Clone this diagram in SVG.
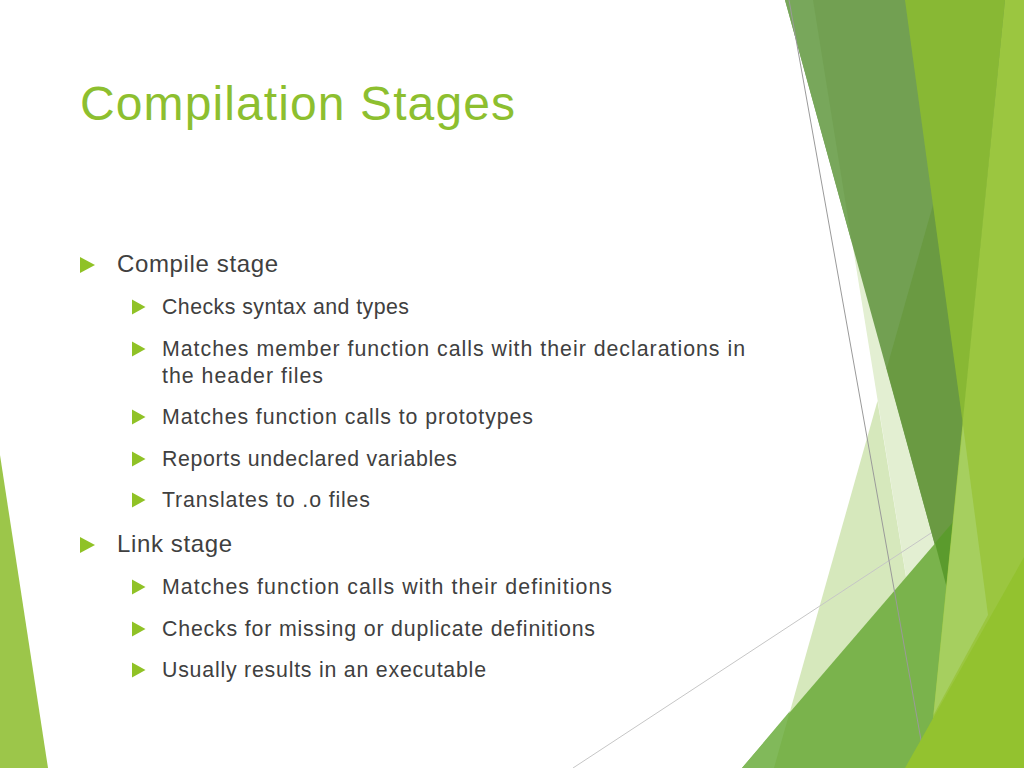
<svg xmlns="http://www.w3.org/2000/svg" width="1024" height="768" viewBox="0 0 1024 768">
  <style>
    .title { font-family: "Liberation Sans", "Open Sans", Arial, sans-serif; font-size: 48px; fill: #8DBF2F; }
    .l1 { font-family: "Liberation Sans", "Open Sans", Arial, sans-serif; font-size: 24px; fill: #404040; }
    .l2 { font-family: "Liberation Sans", "Open Sans", Arial, sans-serif; font-size: 21.33px; fill: #404040; }
    .bul { fill: #90C226; }
    .gl1 { stroke: #9a9a9a; stroke-width: 1; fill: none; }
    .gl2 { stroke: #c6c6c6; stroke-width: 1; fill: none; }
  </style>
  <defs>
    <path id="b1" d="M0,-8 L15,0 L0,8 Z"/>
    <path id="b2" d="M0,-7.5 L13.5,0 L0,7.5 Z"/>
  </defs>

  <rect id="background" x="0" y="0" width="1024" height="768" fill="#FFFFFF"/>

  <g id="decoration">
    <!-- left triangle -->
    <polygon points="0,455 48,768 0,768" fill="#9CC64A"/>
    <!-- pale facets -->
    <polygon points="813,0 1024,0 1024,768 937,768" fill="#E3EFD2"/>
    <polygon points="877.5,401 774,768 937,768" fill="#D6E8BC"/>
    <!-- faint diagonal line -->
    <line class="gl2" x1="573" y1="768" x2="1024" y2="472"/>
    <!-- dark green band -->
    <polygon points="785,0 1012,0 950,600" fill="#72A052"/>
    <polygon points="785,0 813,0 852,243" fill="#78A75B"/>
    <polygon points="991,0 1012,0 950,600 886.7,368.5" fill="#6A9A42"/>
    <!-- medium green lower facet -->
    <polygon points="742,768 1024,440 1024,768" fill="#7AB34C"/>
    <polygon points="742,768 790,711 774,768" fill="#81B95A"/>
    <polygon points="935,543 953,522 950,600" fill="#5B9B2D"/>
    <!-- thin line from top -->
    <line class="gl1" x1="789" y1="0" x2="926" y2="768"/>
    <!-- bright green facets -->
    <polygon points="905,0 1005,0 963,425" fill="#88B834"/>
    <polygon points="1005,0 1024,0 1024,768 928,768" fill="#9BC640"/>
    <polygon points="963,425 988,615 933.5,715" fill="#A6CF5F"/>
    <polygon points="905,768 1024,557 1024,768" fill="#93C22F"/>
  </g>

  <g id="title">
    <text class="title" x="80" y="120" textLength="435" lengthAdjust="spacing">Compilation Stages</text>
  </g>

  <g id="body">
    <g id="compile-stage">
      <use href="#b1" class="bul" x="80" y="265"/>
      <text class="l1" x="117" y="272" textLength="161" lengthAdjust="spacing">Compile stage</text>
    </g>
    <g id="checks-syntax">
      <use href="#b2" class="bul" x="132" y="307"/>
      <text class="l2" x="162" y="314" textLength="247" lengthAdjust="spacing">Checks syntax and types</text>
    </g>
    <g id="matches-member">
      <use href="#b2" class="bul" x="132" y="349"/>
      <text class="l2" x="162" y="356" textLength="583" lengthAdjust="spacing">Matches member function calls with their declarations in</text>
      <text class="l2" x="162" y="383" textLength="161" lengthAdjust="spacing">the header files</text>
    </g>
    <g id="matches-prototypes">
      <use href="#b2" class="bul" x="132" y="417"/>
      <text class="l2" x="162" y="424" textLength="371" lengthAdjust="spacing">Matches function calls to prototypes</text>
    </g>
    <g id="reports-undeclared">
      <use href="#b2" class="bul" x="132" y="459"/>
      <text class="l2" x="162" y="466" textLength="295" lengthAdjust="spacing">Reports undeclared variables</text>
    </g>
    <g id="translates">
      <use href="#b2" class="bul" x="132" y="500"/>
      <text class="l2" x="162" y="507" textLength="208" lengthAdjust="spacing">Translates to .o files</text>
    </g>
    <g id="link-stage">
      <use href="#b1" class="bul" x="80" y="545"/>
      <text class="l1" x="117" y="552" textLength="115" lengthAdjust="spacing">Link stage</text>
    </g>
    <g id="matches-definitions">
      <use href="#b2" class="bul" x="132" y="587"/>
      <text class="l2" x="162" y="594" textLength="450" lengthAdjust="spacing">Matches function calls with their definitions</text>
    </g>
    <g id="checks-missing">
      <use href="#b2" class="bul" x="132" y="629"/>
      <text class="l2" x="162" y="636" textLength="433" lengthAdjust="spacing">Checks for missing or duplicate definitions</text>
    </g>
    <g id="usually-results">
      <use href="#b2" class="bul" x="132" y="670"/>
      <text class="l2" x="162" y="677" textLength="324" lengthAdjust="spacing">Usually results in an executable</text>
    </g>
  </g>
</svg>
